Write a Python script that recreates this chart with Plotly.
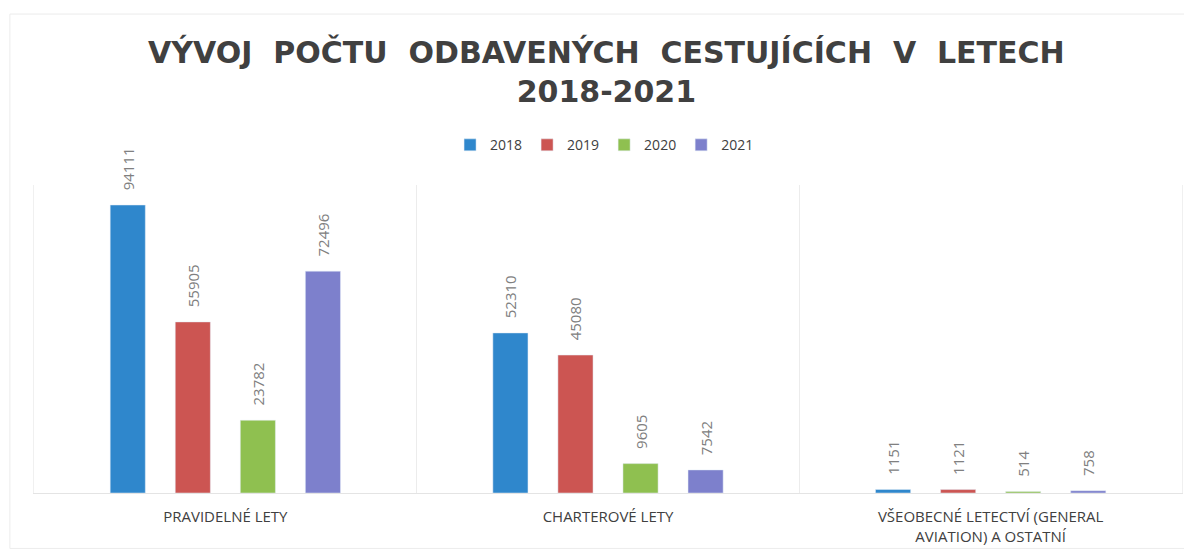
import plotly.graph_objects as go

categories = ["PRAVIDELNÉ LETY", "CHARTEROVÉ LETY", "VŠEOBECNÉ LETECTVÍ (GENERAL<br>AVIATION) A OSTATNÍ"]
years = ["2018", "2019", "2020", "2021"]
values = {
    "2018": [94111, 52310, 1151],
    "2019": [55905, 45080, 1121],
    "2020": [23782, 9605, 514],
    "2021": [72496, 7542, 758],
}
colors = {
    "2018": "#2f87cc",
    "2019": "#cc5552",
    "2020": "#8fc050",
    "2021": "#7d80cc",
}

fig = go.Figure()

for yr in years:
    fig.add_trace(go.Bar(
        x=categories,
        y=values[yr],
        name=yr,
        marker_color=colors[yr],
        text=["\u00a0\u00a0\u00a0" + str(v) for v in values[yr]],
        textposition="outside",
        textangle=-90,
        constraintext="none",
        textfont=dict(color="#808080", size=15, family="Open Sans"),
        cliponaxis=False,
    ))

fig.update_layout(
    title=dict(
        text="<b>VÝVOJ  POČTU  ODBAVENÝCH  CESTUJÍCÍCH  V  LETECH<br>2018-2021</b>",
        x=0.502, xanchor="center", y=0.9, yanchor="top", yref="container",
        font=dict(family="DejaVu Sans", size=30, color="#404040"),
    ),
    barmode="group",
    bargap=0.32,
    bargroupgap=0.46,
    plot_bgcolor="white",
    paper_bgcolor="white",
    width=1192,
    height=549,
    margin=dict(l=26, r=18, t=177, b=64, autoexpand=False),
    legend=dict(
        orientation="h", x=0.497, xanchor="center", y=0.75, yanchor="middle",
        yref="container",
        font=dict(family="Open Sans", size=14, color="#404040"),
        itemwidth=30,
    ),
    # faint outer chart frame
    shapes=[dict(
        type="rect", xref="paper", yref="paper",
        x0=-0.021, x1=1.01, y0=-0.18, y1=1.555,
        line=dict(color="#ececec", width=1), layer="below",
    )],
)

fig.update_xaxes(
    tickson="boundaries",
    showgrid=True,
    gridcolor="#ececec",
    showline=True,
    linecolor="#e4e4e4",
    ticks="",
    ticklabelstandoff=10,
    automargin=False,
    tickfont=dict(family="Open Sans", size=15, color="#404040"),
)
fig.update_yaxes(
    range=[0, 100650],
    showgrid=False,
    showticklabels=False,
    zeroline=False,
    showline=True,
    mirror=True,
    linecolor="#f0f0f0",
    automargin=False,
)

fig.write_html("out.html")
